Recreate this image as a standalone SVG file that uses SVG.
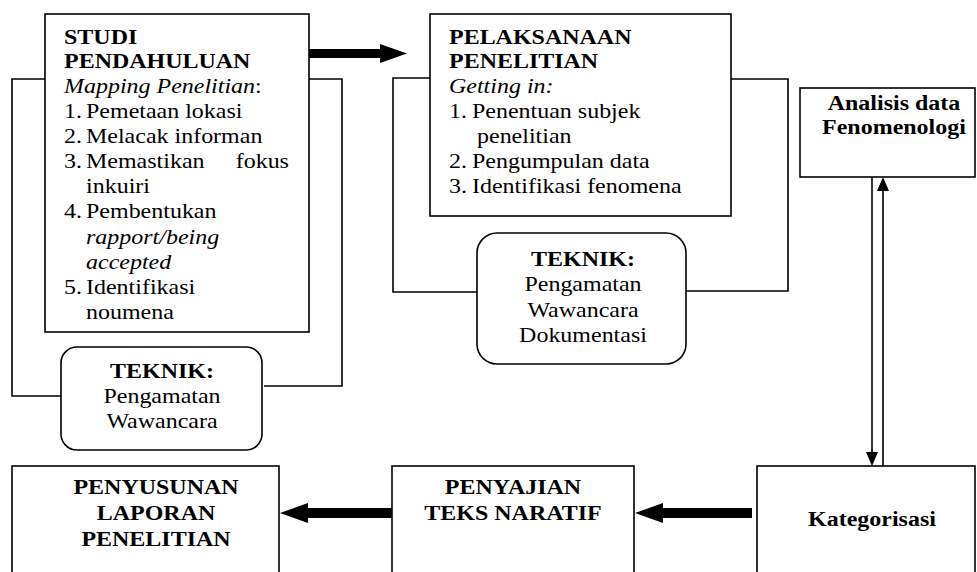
<svg xmlns="http://www.w3.org/2000/svg" width="977" height="572" viewBox="0 0 977 572">
<style>
text{font-family:"Liberation Serif","Times New Roman",serif;font-size:22px;fill:#000}
.b{font-weight:bold}
.i{font-style:italic}
.m{text-anchor:middle}
.e{text-anchor:end}
.box{fill:#fff;stroke:#000;stroke-width:1.6}
.ln{fill:none;stroke:#000;stroke-width:1.6}
.ah{fill:#000;stroke:none}
</style>
<rect width="977" height="572" fill="#fff"/>
<g id="connectors">
<path class="ln" d="M45,79 H12 V396 H61"/>
<path class="ln" d="M309,79 H342 V386 H264"/>
<path class="ln" d="M430,78 H393 V292 H477"/>
<path class="ln" d="M731,79 H788 V291 H686"/>
<polygon class="ah" points="309,49 380,49 380,44 407,53.5 380,63 380,58 309,58"/>
<polygon class="ah" points="752,508 663,508 663,503 635,513 663,523 663,518 752,518"/>
<polygon class="ah" points="392,508 308,508 308,503 280,513 308,523 308,518 392,518"/>
<line class="ln" x1="872" y1="177" x2="872" y2="453"/>
<polygon class="ah" points="866,452 878,452 872,466"/>
<line class="ln" x1="883" y1="466" x2="883" y2="190"/>
<polygon class="ah" points="877,191 889,191 883,177"/>
</g>
<g id="studi">
<rect class="box" x="45" y="14" width="264" height="318"/>
<g transform="translate(64 0) scale(1.09 1)">
<text class="b" x="0" y="44">STUDI</text>
<text class="b" x="0" y="68">PENDAHULUAN</text>
<text x="0" y="93"><tspan class="i">Mapping Penelitian</tspan>:</text>
<text x="0" y="118">1.</text><text x="20.2" y="118">Pemetaan lokasi</text>
<text x="0" y="143">2.</text><text x="20.2" y="143">Melacak informan</text>
<text x="0" y="168">3.</text><text x="20.2" y="168">Memastikan</text><text class="e" x="206.4" y="168">fokus</text>
<text x="20.2" y="193">inkuiri</text>
<text x="0" y="218">4.</text><text x="20.2" y="218">Pembentukan</text>
<text class="i" x="20.2" y="244">rapport/being</text>
<text class="i" x="20.2" y="269">accepted</text>
<text x="0" y="294">5.</text><text x="20.2" y="294">Identifikasi</text>
<text x="20.2" y="319">noumena</text>
</g>
</g>
<g id="teknik1">
<rect class="box" x="61" y="347" width="201" height="103" rx="16"/>
<g transform="translate(162 0) scale(1.09 1)">
<text class="b m" x="0" y="378">TEKNIK:</text>
<text class="m" x="0" y="403">Pengamatan</text>
<text class="m" x="0" y="428">Wawancara</text>
</g>
</g>
<g id="pelaksanaan">
<rect class="box" x="430" y="14" width="301" height="202"/>
<g transform="translate(449 0) scale(1.09 1)">
<text class="b" x="0" y="44">PELAKSANAAN</text>
<text class="b" x="0" y="68">PENELITIAN</text>
<text class="i" x="0" y="93">Getting in:</text>
<text x="0" y="118">1.</text><text x="21.1" y="118">Penentuan subjek</text>
<text x="25.7" y="143">penelitian</text>
<text x="0" y="168">2.</text><text x="21.1" y="168">Pengumpulan data</text>
<text x="0" y="193">3.</text><text x="21.1" y="193">Identifikasi fenomena</text>
</g>
</g>
<g id="teknik2">
<rect class="box" x="477" y="233" width="209" height="131" rx="20"/>
<g transform="translate(583 0) scale(1.09 1)">
<text class="b m" x="0" y="266">TEKNIK:</text>
<text class="m" x="0" y="291">Pengamatan</text>
<text class="m" x="0" y="317">Wawancara</text>
<text class="m" x="0" y="342">Dokumentasi</text>
</g>
</g>
<g id="analisis">
<rect class="box" x="800" y="88" width="175" height="89"/>
<g transform="translate(894 0) scale(1.09 1)">
<text class="b m" x="0" y="110">Analisis data</text>
<text class="b m" x="0" y="134">Fenomenologi</text>
</g>
</g>
<g id="kategorisasi">
<rect class="box" x="757" y="466" width="218" height="120"/>
<g transform="translate(872 0) scale(1.09 1)">
<text class="b m" x="0" y="526">Kategorisasi</text>
</g>
</g>
<g id="penyajian">
<rect class="box" x="392" y="466" width="242" height="120"/>
<g transform="translate(513 0) scale(1.09 1)">
<text class="b m" x="0" y="494">PENYAJIAN</text>
<text class="b m" x="0" y="520">TEKS NARATIF</text>
</g>
</g>
<g id="penyusunan">
<rect class="box" x="12" y="466" width="267" height="120"/>
<g transform="translate(156 0) scale(1.09 1)">
<text class="b m" x="0" y="494">PENYUSUNAN</text>
<text class="b m" x="0" y="520">LAPORAN</text>
<text class="b m" x="0" y="546">PENELITIAN</text>
</g>
</g>
</svg>
